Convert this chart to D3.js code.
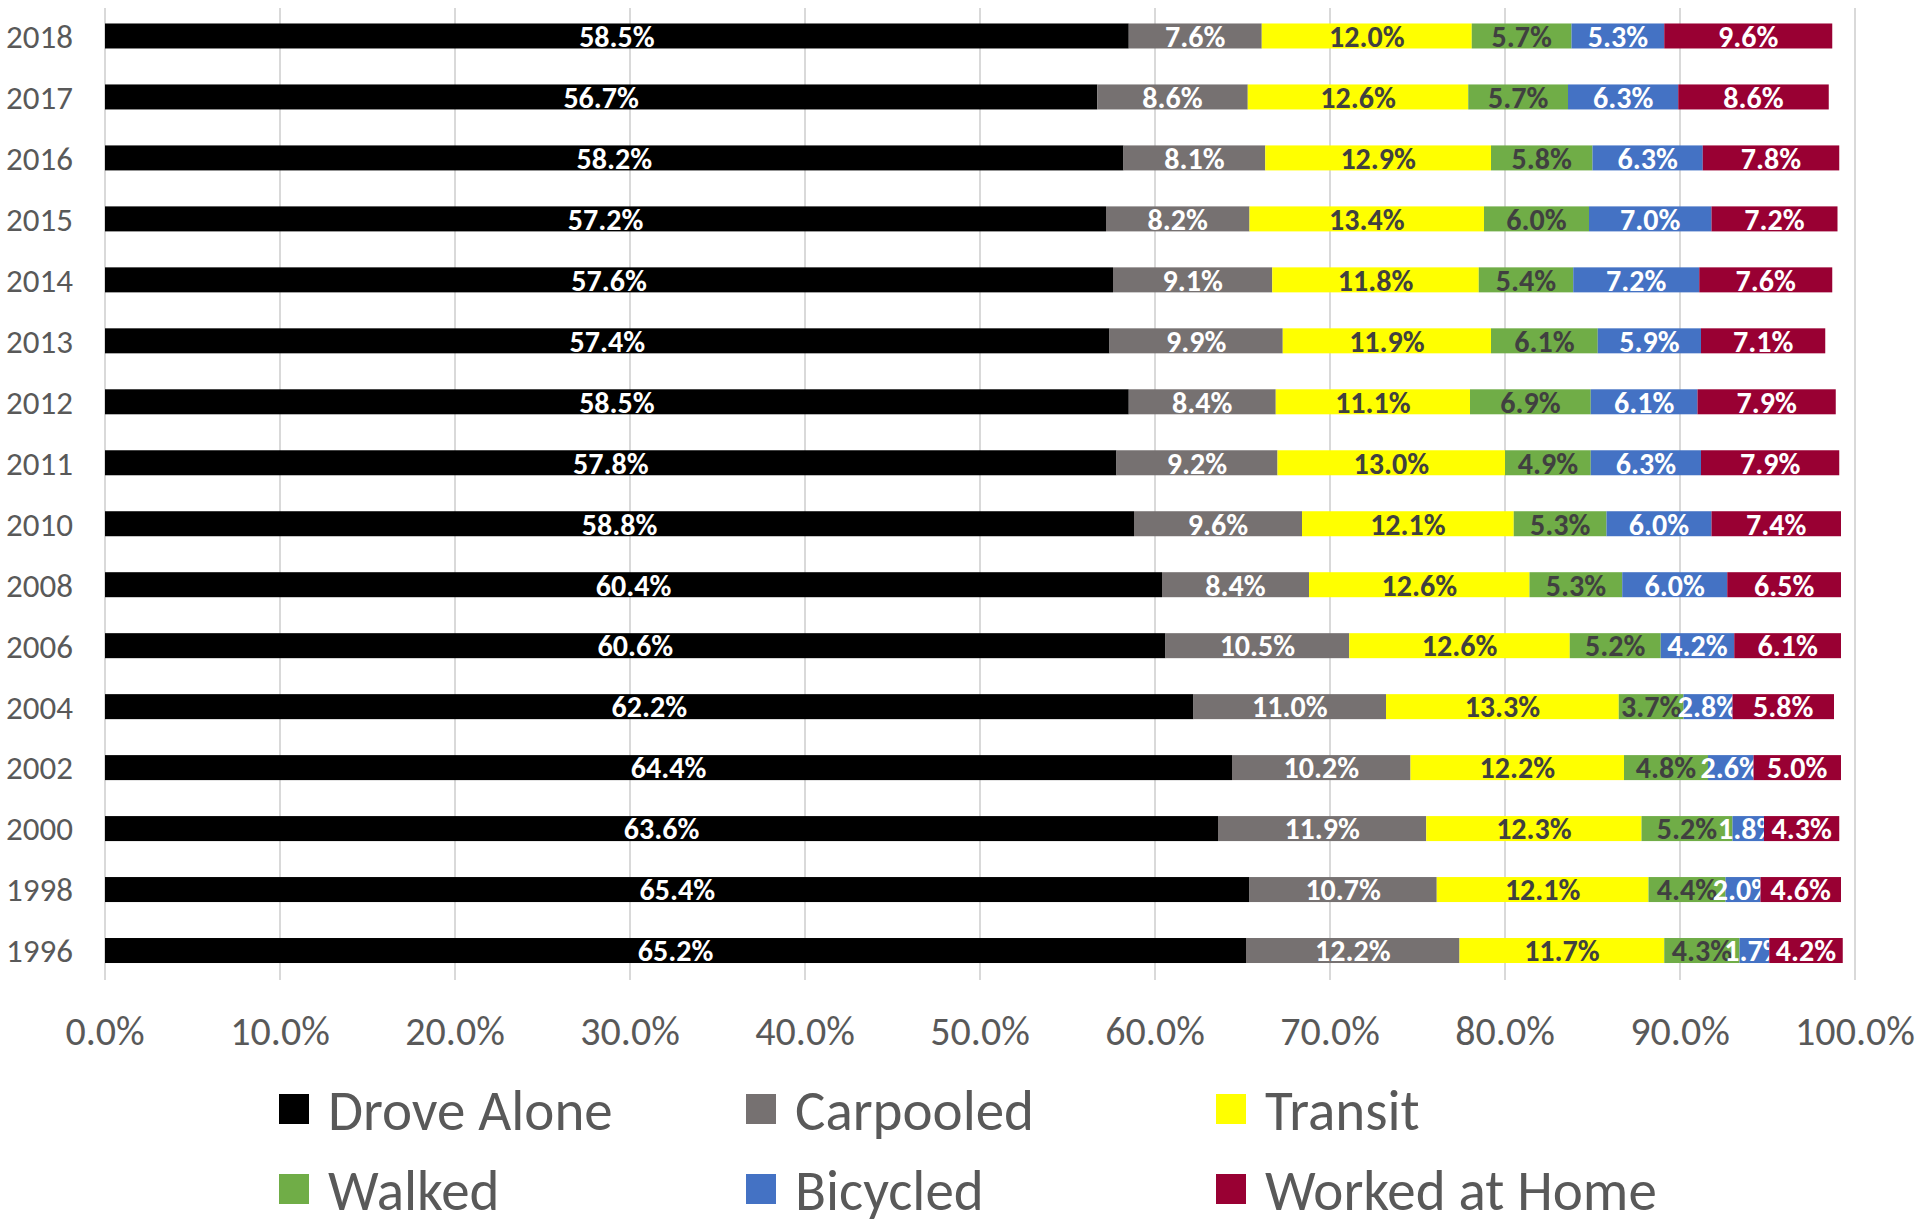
<!DOCTYPE html>
<html>
<head>
<meta charset="utf-8">
<script src="https://cdn.jsdelivr.net/npm/d3@7"></script>
<style>
  body { margin: 0; background: #fff; }
  svg { display: block; }
</style>
</head>
<body>
<svg id="chart" width="1917" height="1221"></svg>
<script>
// years, top to bottom as drawn
let years = ["2018", "2017", "2016", "2015", "2014", "2013", "2012", "2011",
             "2010", "2008", "2006", "2004", "2002", "2000", "1998", "1996"];

let modes = ["Drove Alone", "Carpooled", "Transit", "Walked", "Bicycled", "Worked at Home"];

// shares in percent, one array per mode, same order as years
let droveAlone   = [58.5, 56.7, 58.2, 57.2, 57.6, 57.4, 58.5, 57.8, 58.8, 60.4, 60.6, 62.2, 64.4, 63.6, 65.4, 65.2];
let carpooled    = [7.6, 8.6, 8.1, 8.2, 9.1, 9.9, 8.4, 9.2, 9.6, 8.4, 10.5, 11.0, 10.2, 11.9, 10.7, 12.2];
let transit      = [12.0, 12.6, 12.9, 13.4, 11.8, 11.9, 11.1, 13.0, 12.1, 12.6, 12.6, 13.3, 12.2, 12.3, 12.1, 11.7];
let walked       = [5.7, 5.7, 5.8, 6.0, 5.4, 6.1, 6.9, 4.9, 5.3, 5.3, 5.2, 3.7, 4.8, 5.2, 4.4, 4.3];
let bicycled     = [5.3, 6.3, 6.3, 7.0, 7.2, 5.9, 6.1, 6.3, 6.0, 6.0, 4.2, 2.8, 2.6, 1.8, 2.0, 1.7];
let workedAtHome = [9.6, 8.6, 7.8, 7.2, 7.6, 7.1, 7.9, 7.9, 7.4, 6.5, 6.1, 5.8, 5.0, 4.3, 4.6, 4.2];

let xTicks = [0, 10, 20, 30, 40, 50, 60, 70, 80, 90, 100];

let seriesValues = [droveAlone, carpooled, transit, walked, bicycled, workedAtHome];
let modeColors = ["#000000", "#767171", "#ffff00", "#70ad47", "#4472c4", "#990033"];
let labelColors = ["#ffffff", "#ffffff", "#404040", "#404040", "#ffffff", "#ffffff"];

let fontFamily = "Carlito, 'Liberation Sans Narrow', 'Open Sans', sans-serif";
let axisColor = "#595959";
let gridColor = "#d9d9d9";

let svg = d3.select("#chart");

let x = d3.scaleLinear()
  .domain([0, 100])
  .range([105, 1855]);

let y = d3.scaleBand()
  .domain(years)
  .range([5.5, 981])
  .paddingInner(0.59)
  .paddingOuter(0.295);

// rows for the stack
let rows = years.map(function(yr, i) {
  let row = { year: yr };
  modes.forEach(function(m, j) { row[m] = seriesValues[j][i]; });
  return row;
});

let stack = d3.stack().keys(modes);
let stacked = stack(rows);

// gridlines
svg.append("g")
  .selectAll("line")
  .data(xTicks)
  .enter().append("line")
    .attr("x1", function(d) { return x(d); })
    .attr("x2", function(d) { return x(d); })
    .attr("y1", 8)
    .attr("y2", 980)
    .style("stroke", gridColor)
    .style("stroke-width", 2);

// bar segments
let layers = svg.append("g")
  .selectAll("g")
  .data(stacked)
  .enter().append("g")
    .attr("fill", function(d, i) { return modeColors[i]; });

layers.selectAll("rect")
  .data(function(d) { return d; })
  .enter().append("rect")
    .attr("x", function(d) { return x(d[0]); })
    .attr("y", function(d) { return y(d.data.year); })
    .attr("width", function(d) { return x(d[1]) - x(d[0]); })
    .attr("height", y.bandwidth());

// segment labels
layers.each(function(layer, i) {
  d3.select(this).selectAll("text")
    .data(layer)
    .enter().append("text")
      .attr("x", function(d) { return x((d[0] + d[1]) / 2); })
      .attr("y", function(d) { return y(d.data.year) + y.bandwidth() / 2; })
      .attr("dy", "0.36em")
      .text(function(d) { return (d[1] - d[0]).toFixed(1) + "%"; })
      .style("fill", labelColors[i])
      .style("text-anchor", "middle")
      .style("font-family", fontFamily)
      .style("font-weight", "bold")
      .style("font-size", "30px");
});

// year labels
svg.append("g")
  .selectAll("text")
  .data(years)
  .enter().append("text")
    .attr("x", 73)
    .attr("y", function(d) { return y(d) + y.bandwidth() / 2; })
    .attr("dy", "0.36em")
    .text(function(d) { return d; })
    .style("fill", axisColor)
    .style("text-anchor", "end")
    .style("font-family", fontFamily)
    .style("font-size", "33px");

// x tick labels
svg.append("g")
  .selectAll("text")
  .data(xTicks)
  .enter().append("text")
    .attr("x", function(d) { return x(d); })
    .attr("y", 1031)
    .attr("dy", "0.36em")
    .text(function(d) { return d.toFixed(1) + "%"; })
    .style("fill", axisColor)
    .style("text-anchor", "middle")
    .style("font-family", fontFamily)
    .style("font-size", "40px");

// legend, 3 columns x 2 rows
let legendCols = [279, 746, 1216];
let legendRows = [1109, 1189];

let legend = svg.append("g")
  .selectAll("g")
  .data(modes)
  .enter().append("g")
    .attr("transform", function(d, i) {
      return "translate(" + legendCols[i % 3] + "," + legendRows[Math.floor(i / 3)] + ")";
    });

legend.append("rect")
  .attr("x", 0)
  .attr("y", -15)
  .attr("width", 30)
  .attr("height", 30)
  .attr("fill", function(d, i) { return modeColors[i]; });

legend.append("text")
  .attr("x", 49)
  .attr("y", 0)
  .attr("dy", "0.36em")
  .text(function(d) { return d; })
  .style("fill", axisColor)
  .style("font-family", fontFamily)
  .style("font-size", "57px");
</script>
</body>
</html>
